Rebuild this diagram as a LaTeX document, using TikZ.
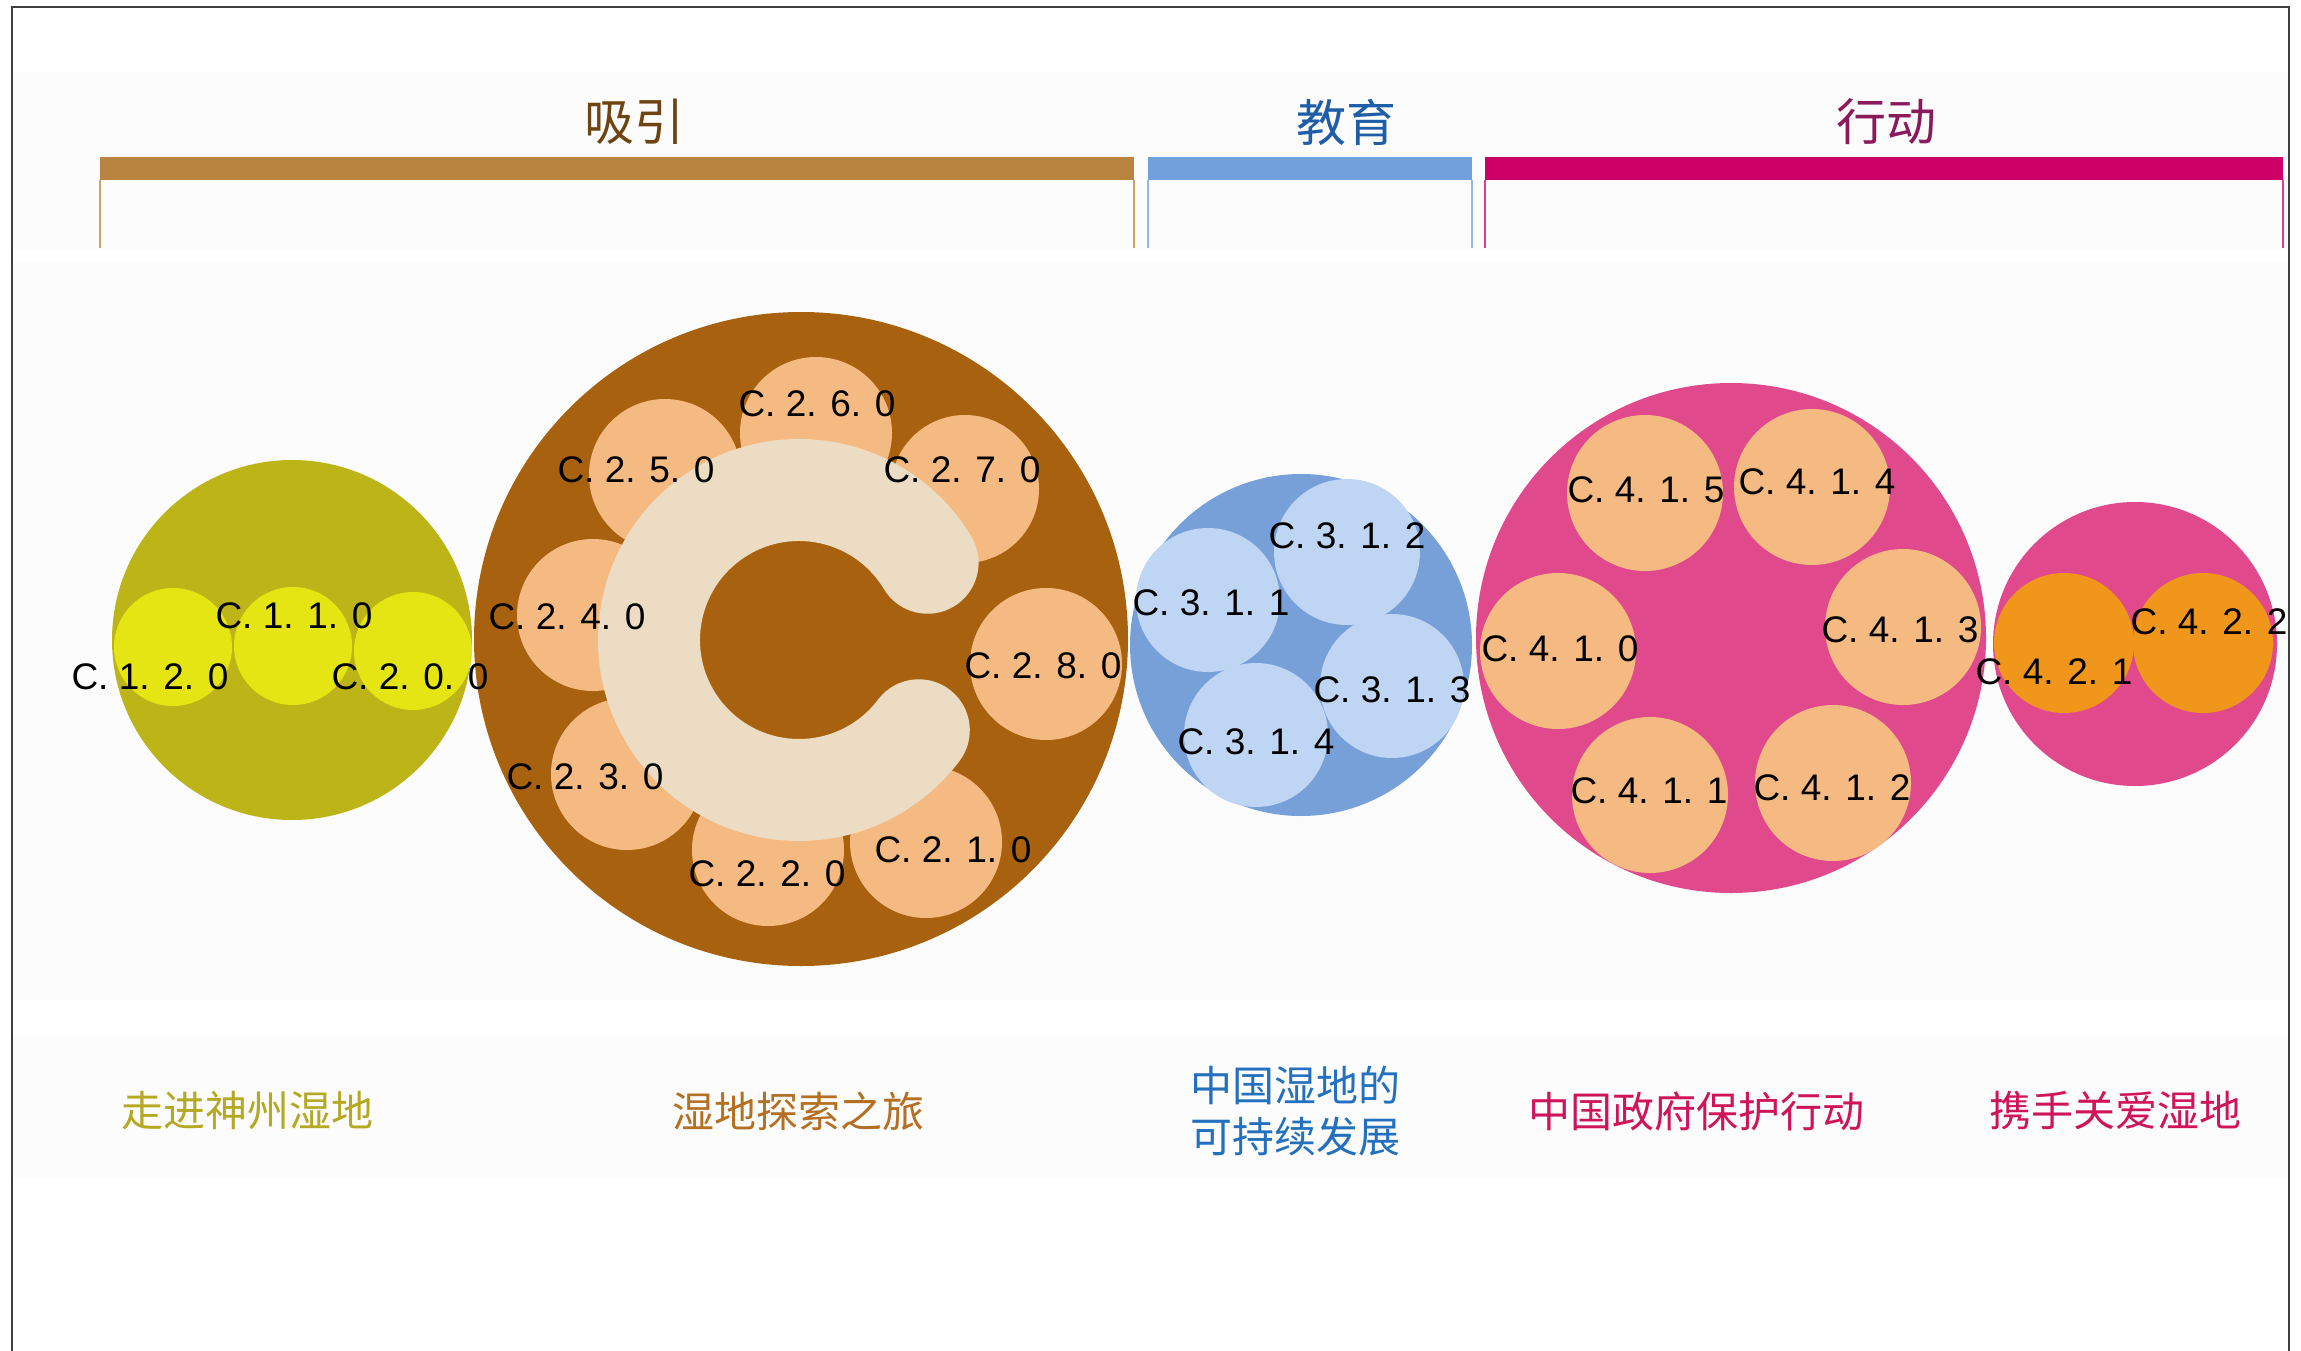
\documentclass[tikz,border=0pt]{standalone}
\usepackage{fontspec}
\setmainfont{Liberation Sans}
\newfontfamily\cjk{Noto Sans CJK SC}
\definecolor{olv}{HTML}{BDB417}
\definecolor{ylw}{HTML}{E6E514}
\definecolor{brn}{HTML}{A8620F}
\definecolor{peach}{HTML}{F4BA82}
\definecolor{cbeige}{HTML}{ECDCC3}
\definecolor{blu}{HTML}{78A0D8}
\definecolor{lblu}{HTML}{BED5F3}
\definecolor{pnk}{HTML}{E04A8C}
\definecolor{org}{HTML}{F0961A}
\definecolor{barbrn}{HTML}{B9843F}
\definecolor{barblu}{HTML}{72A0DA}
\definecolor{barmag}{HTML}{CC0066}
\definecolor{tbrn}{HTML}{6E4512}
\definecolor{tblu}{HTML}{1F5DA8}
\definecolor{tmag}{HTML}{8A1A5C}
\definecolor{bolv}{HTML}{B5A823}
\definecolor{bbrn}{HTML}{B46F22}
\definecolor{bblu}{HTML}{2270BE}
\definecolor{bmag}{HTML}{D0145A}
\definecolor{band}{HTML}{FCFCFC}
\begin{document}
\begin{tikzpicture}[x=1pt,y=-1pt,
  disc/.style 2 args={circle, fill=#1, draw=none, inner sep=0pt, minimum size=#2},
  lbl/.style={inner sep=0pt, text=black, font=\fontsize{37}{40}\selectfont},
  ttl/.style={inner sep=0pt, font=\cjk\fontsize{50}{54}\selectfont},
  captxt/.style={inner sep=0pt, align=center, font=\cjk\fontsize{42}{51}\selectfont}]
\useasboundingbox (0,0) rectangle (2301,1351);
\fill[white] (0,0) rectangle (2301,1351);
% faint bands
\fill[band] (12,72) rectangle (2289,250);
\fill[band] (12,262) rectangle (2289,1000);
\fill[band] (12,1035) rectangle (2289,1178);
% frame
\draw[black!75, line width=2pt] (11.5,1351) -- (11.5,7) -- (2289,7) -- (2289,1351);
% header bars
\fill[barbrn] (100,157) rectangle (1134,180);
\draw[barbrn!75, line width=1.5pt] (100,180) -- (100,248) (1134,180) -- (1134,248);
\fill[barblu] (1148,157) rectangle (1472,180);
\draw[barblu!75, line width=1.5pt] (1148,180) -- (1148,248) (1472,180) -- (1472,248);
\fill[barmag] (1485,157) rectangle (2283,180);
\draw[barmag!75, line width=1.5pt] (1485,180) -- (1485,248) (2283,180) -- (2283,248);
\node[ttl, text=tbrn] (t1) at (634,122) {吸引};
\node[ttl, text=tblu] (t2) at (1346,122) {教育};
\node[ttl, text=tmag] (t3) at (1886,122) {行动};
% group 1
\node[disc={olv}{360pt}] (g1) at (292,640) {};
\node[disc={ylw}{118pt}] (c120) at (173,647) {};
\node[disc={ylw}{118pt}] (c110) at (293,646) {};
\node[disc={ylw}{118pt}] (c200) at (413,651) {};
% group 2
\node[disc={brn}{654pt}] (g2) at (801,639) {};
\node[disc={peach}{152pt}] (c260) at (816,433) {};
\node[disc={peach}{152pt}] (c250) at (665,475) {};
\node[disc={peach}{148pt}] (c270) at (965,489) {};
\node[disc={peach}{152pt}] (c280) at (1046,664) {};
\node[disc={peach}{152pt}] (c240) at (593,615) {};
\node[disc={peach}{152pt}] (c230) at (627,774) {};
\node[disc={peach}{152pt}] (c220) at (768,850) {};
\node[disc={peach}{152pt}] (c210) at (926,842) {};
\draw[cbeige, line width=102pt, line cap=round] (799,640) ++(-31:150) arc[start angle=-31, end angle=-323, radius=150];
% group 3
\node[disc={blu}{342pt}] (g3) at (1301,645) {};
\node[disc={lblu}{146pt}] (c312) at (1347,552) {};
\node[disc={lblu}{144pt}] (c311) at (1208,600) {};
\node[disc={lblu}{144pt}] (c313) at (1392,686) {};
\node[disc={lblu}{144pt}] (c314) at (1256,735) {};
% group 4
\node[disc={pnk}{510pt}] (g4) at (1731,638) {};
\node[disc={peach}{156pt}] (c415) at (1645,493) {};
\node[disc={peach}{156pt}] (c414) at (1812,487) {};
\node[disc={peach}{156pt}] (c410) at (1558,651) {};
\node[disc={peach}{156pt}] (c413) at (1903,627) {};
\node[disc={peach}{156pt}] (c411) at (1650,795) {};
\node[disc={peach}{156pt}] (c412) at (1833,783) {};
% group 5
\node[disc={pnk}{284pt}] (g5) at (2135,644) {};
\node[disc={org}{140pt}] (c421) at (2064,643) {};
\node[disc={org}{140pt}] (c422) at (2203,643) {};
% labels
\node[lbl] (l110) at (294,616) {C. 1. 1. 0};
\node[lbl] (l120) at (150,677) {C. 1. 2. 0};
\node[lbl] (l200) at (410,677) {C. 2. 0. 0};
\node[lbl] (l260) at (817,404) {C. 2. 6. 0};
\node[lbl] (l250) at (636,470) {C. 2. 5. 0};
\node[lbl] (l270) at (962,470) {C. 2. 7. 0};
\node[lbl] (l240) at (567,617) {C. 2. 4. 0};
\node[lbl] (l280) at (1043,666) {C. 2. 8. 0};
\node[lbl] (l230) at (585,777) {C. 2. 3. 0};
\node[lbl] (l220) at (767,874) {C. 2. 2. 0};
\node[lbl] (l210) at (953,850) {C. 2. 1. 0};
\node[lbl] (l312) at (1347,536) {C. 3. 1. 2};
\node[lbl] (l311) at (1211,603) {C. 3. 1. 1};
\node[lbl] (l313) at (1392,690) {C. 3. 1. 3};
\node[lbl] (l314) at (1256,742) {C. 3. 1. 4};
\node[lbl] (l415) at (1646,490) {C. 4. 1. 5};
\node[lbl] (l414) at (1817,482) {C. 4. 1. 4};
\node[lbl] (l410) at (1560,649) {C. 4. 1. 0};
\node[lbl] (l413) at (1900,630) {C. 4. 1. 3};
\node[lbl] (l411) at (1649,791) {C. 4. 1. 1};
\node[lbl] (l412) at (1832,788) {C. 4. 1. 2};
\node[lbl] (l421) at (2054,672) {C. 4. 2. 1};
\node[lbl] (l422) at (2209,622) {C. 4. 2. 2};
% captions
\node[captxt, text=bolv] (b1) at (247,1111) {走进神州湿地};
\node[captxt, text=bbrn] (b2) at (798,1111) {湿地探索之旅};
\node[captxt, text=bblu] (b3) at (1295,1111) {中国湿地的\\可持续发展};
\node[captxt, text=bmag] (b4) at (1696,1111) {中国政府保护行动};
\node[captxt, text=bmag] (b5) at (2115,1111) {携手关爱湿地};
\end{tikzpicture}
\end{document}
